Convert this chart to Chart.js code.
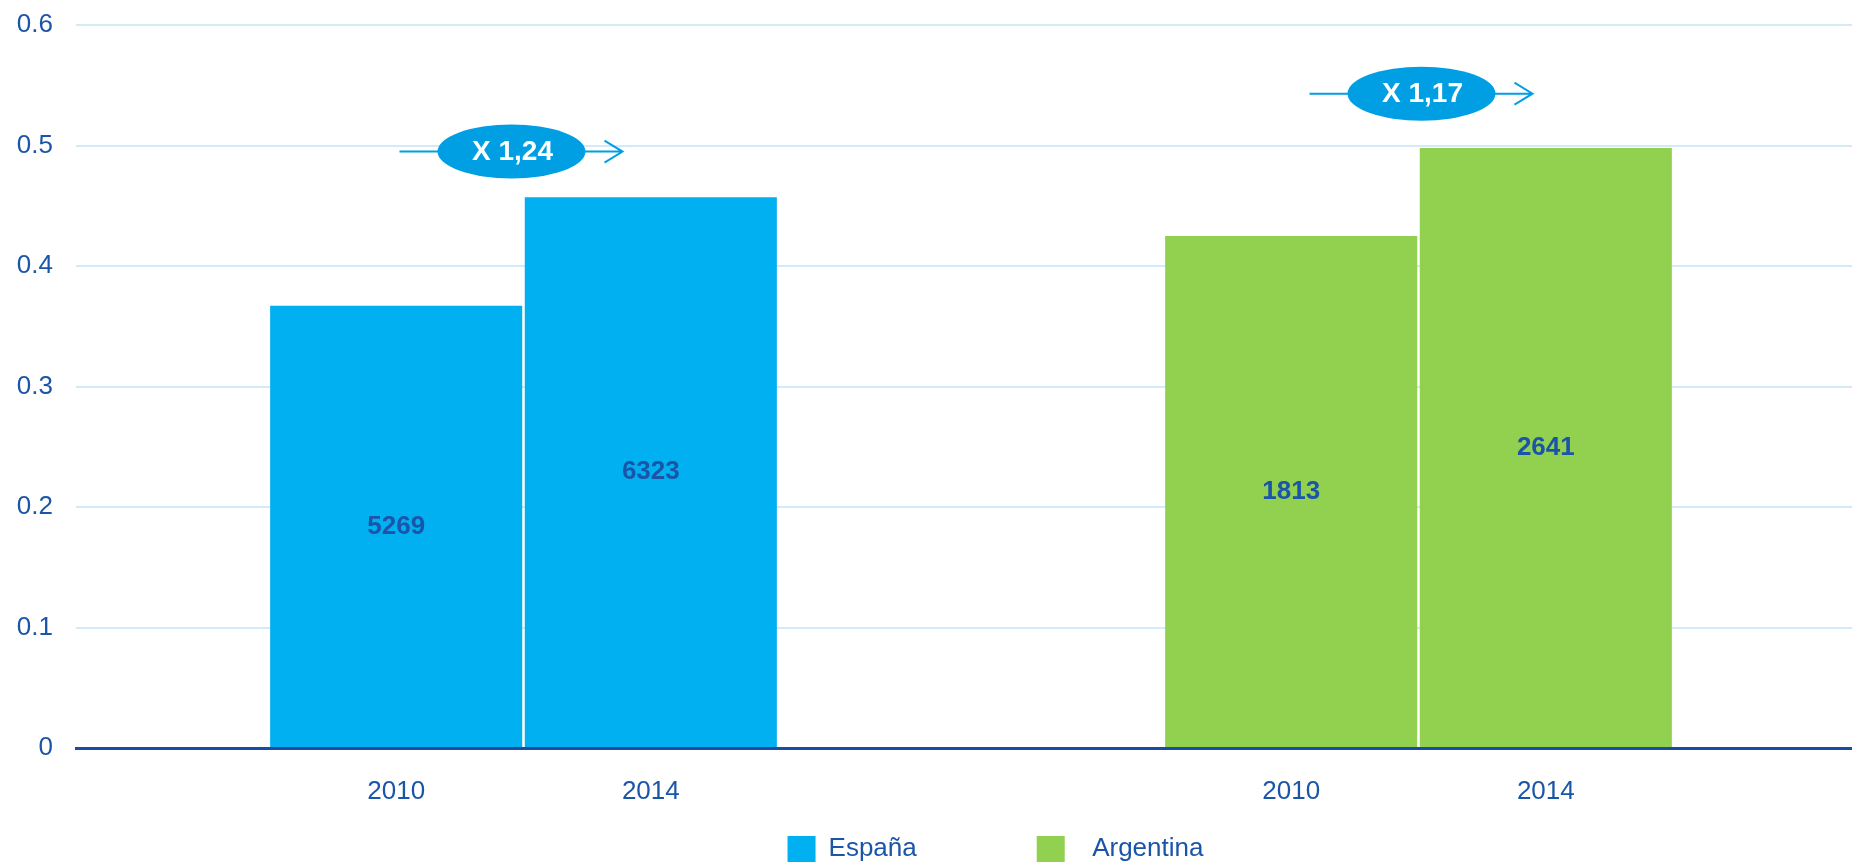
<!DOCTYPE html>
<html>
<head>
<meta charset="utf-8">
<script src="https://cdn.jsdelivr.net/npm/chart.js@4"></script>
<style>
  html, body { margin: 0; padding: 0; background: #fff; overflow: hidden; }
  #wrap { width: 1866px; height: 863px; }
</style>
</head>
<body>
<div id="wrap"><canvas id="chart" width="1866" height="863"></canvas></div>
<script>
const groups = ['España', 'Argentina'];
const years = ['2010', '2014'];
const ratio2010 = [0.367, 0.425];
const ratio2014 = [0.457, 0.498];
const count2010 = [5269, 1813];
const count2014 = [6323, 2641];
const growth = ['X 1,24', 'X 1,17'];
const growthLevel = [0.495, 0.543];

const groupColors = ['#00b0f0', '#92d050'];
const textBlue = '#1b55a8';
const bubbleBlue = '#009fe3';
const fontFamily = '"Liberation Sans", Arial, sans-serif';

Chart.defaults.font.family = fontFamily;

// numbers inside the bars, years under them and the growth bubbles
const labelsPlugin = {
  id: 'labels',
  afterLayout(chart) {
    // legend sits a bit right of centre and overlaps the reserved space
    const lg = chart.legend;
    lg.left += 54; lg.right += 54;
    lg.top -= 32;
    lg.bottom = lg.top + 300;
  },
  afterDatasetsDraw(chart) {
    const ctx = chart.ctx;
    const yScale = chart.scales.y;
    const counts = [count2010, count2014];
    ctx.save();
    ctx.textAlign = 'center';
    ctx.textBaseline = 'middle';
    chart.data.datasets.forEach((ds, di) => {
      chart.getDatasetMeta(di).data.forEach((bar, i) => {
        ctx.fillStyle = textBlue;
        ctx.font = 'bold 26px ' + fontFamily;
        ctx.fillText(counts[di][i], bar.x, (bar.y + bar.base) / 2);
        ctx.font = '26px ' + fontFamily;
        ctx.fillText(years[di], bar.x, bar.base + 45);
      });
    });

    const a = chart.getDatasetMeta(0).data;
    const b = chart.getDatasetMeta(1).data;
    const startShift = [-124, -109];
    growth.forEach((txt, i) => {
      const mid = (a[i].x + b[i].x) / 2;
      const xs = mid + startShift[i];
      const cy = yScale.getPixelForValue(growthLevel[i]);
      const cx = xs + 112;
      ctx.strokeStyle = bubbleBlue;
      ctx.lineWidth = 2;
      ctx.beginPath();
      ctx.moveTo(xs, cy);
      ctx.lineTo(xs + 223, cy);
      ctx.moveTo(xs + 205, cy - 11);
      ctx.lineTo(xs + 223, cy);
      ctx.lineTo(xs + 205, cy + 11);
      ctx.stroke();
      ctx.fillStyle = bubbleBlue;
      ctx.beginPath();
      ctx.ellipse(cx, cy, 74, 27, 0, 0, Math.PI * 2);
      ctx.fill();
      ctx.fillStyle = '#ffffff';
      ctx.font = 'bold 28px ' + fontFamily;
      ctx.fillText(txt, cx + 1, cy + 1);
    });
    ctx.restore();
  }
};

new Chart(document.getElementById('chart'), {
  type: 'bar',
  data: {
    labels: groups,
    datasets: [
      { label: years[0], data: ratio2010, backgroundColor: groupColors },
      { label: years[1], data: ratio2014, backgroundColor: groupColors }
    ]
  },
  options: {
    responsive: false,
    animation: false,
    categoryPercentage: 0.569,
    barPercentage: 0.99,
    layout: { padding: { top: 25, left: 17, right: 0, bottom: 0 } },
    plugins: {
      tooltip: { enabled: false },
      legend: {
        position: 'bottom',
        maxHeight: 115,
        labels: {
          boxWidth: 28,
          boxHeight: 26,
          padding: 120,
          color: textBlue,
          font: { size: 26 },
          // the second entry has a wider gap after its box in the original
          generateLabels: () => groups.map((g, i) => ({
            text: (i ? '  ' : '') + g,
            fillStyle: groupColors[i],
            strokeStyle: groupColors[i],
            lineWidth: 0,
            fontColor: textBlue,
            hidden: false,
            index: i
          }))
        }
      }
    },
    scales: {
      x: {
        grid: { display: false, drawTicks: false },
        ticks: { display: false },
        border: { color: '#1a4ca6', width: 3 }
      },
      y: {
        min: 0,
        max: 0.6,
        afterFit: scale => {
          scale.width = 59;
          scale.paddingTop = 0;
        },
        ticks: { stepSize: 0.1, color: textBlue, font: { size: 26 }, padding: 23 },
        grid: { color: '#d3ebf8', lineWidth: 2, drawTicks: false },
        border: { display: false }
      }
    }
  },
  plugins: [labelsPlugin]
});
</script>
</body>
</html>
